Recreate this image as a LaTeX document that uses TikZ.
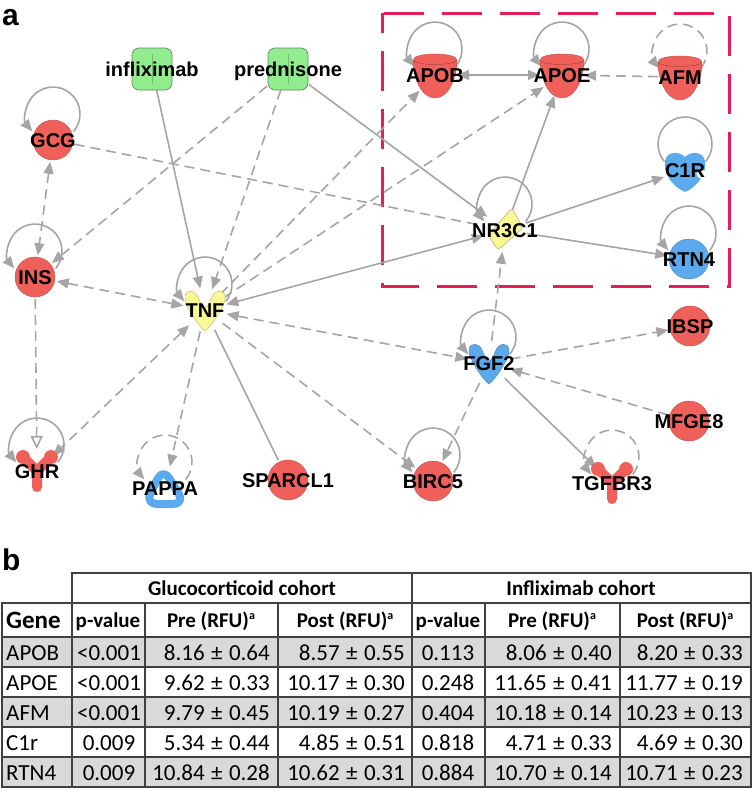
\documentclass[tikz,border=0pt]{standalone}
\usepackage{fontspec}
\setmainfont{Liberation Sans}
\newfontfamily\tabfont{Carlito}
\usetikzlibrary{arrows.meta}

\definecolor{upred}{RGB}{240,96,90}
\definecolor{dnblue}{RGB}{92,170,238}
\definecolor{ylw}{RGB}{250,248,150}
\definecolor{drugfill}{RGB}{144,236,140}
\definecolor{drugline}{RGB}{95,135,95}
\definecolor{edgegray}{RGB}{165,165,165}
\definecolor{boxred}{RGB}{228,30,88}
\definecolor{tabline}{RGB}{64,64,64}
\definecolor{tabshade}{RGB}{217,217,217}

\newcommand{\selfloop}[2][]{\draw[link,#1] (#2.center) ++(20.7,-8.6) arc[start angle=-40,end angle=220,radius=27pt];}
\newcommand{\rfusup}{\raisebox{8pt}{\fontsize{12}{12}\selectfont a}}
\newcommand{\pmx}{\hspace{0.28em}±\hspace{0.28em}}

\tikzset{
  gene/.style={circle, minimum size=44pt, inner sep=0pt, outer sep=0pt},
  drug/.style={rectangle, minimum width=42pt, minimum height=42pt, inner sep=0pt, outer sep=0pt},
  tag/.style={font=\fontsize{20}{22}\selectfont\bfseries, inner sep=0pt, anchor=base, yshift=-7pt},
  panel/.style={font=\fontsize{30}{32}\selectfont\bfseries, inner sep=0pt},
  link/.style={draw=edgegray, line width=1.6pt, -{Triangle[length=12pt,width=10pt]}},
  twoway/.style={{Triangle[length=12pt,width=10pt]}-{Triangle[length=12pt,width=10pt]}},
  broken/.style={dash pattern=on 10pt off 6pt},
  hotbox/.style={draw=boxred, line width=3pt, dash pattern=on 40pt off 18pt, dash phase=20pt},
  rule/.style={draw=tabline, line width=1.5pt, line cap=rect},
  cell/.style={font=\tabfont\fontsize{23}{25}\selectfont, inner sep=0pt},
  head/.style={font=\tabfont\bfseries\fontsize{21}{23}\selectfont, inner sep=0pt},
  % molecule shapes
  ball/.pic={\fill[#1, draw=#1!80!black, line width=0.4pt] (0,0) circle[radius=20pt];},
  cup/.pic={
    \fill[#1, draw=#1!80!black, line width=0.4pt] (-22,-15) .. controls (-22,-23) and (22,-23) .. (22,-15)
      .. controls (22,2) and (14,23) .. (0,23) .. controls (-14,23) and (-22,2) .. (-22,-15) -- cycle;
    \draw[#1!70!black, line width=0.5pt] (-22,-15) .. controls (-20,-9) and (20,-9) .. (22,-15);},
  wing/.pic={
    \fill[#1, draw=#1!75!black, line width=0.4pt] (0,21) .. controls (-5,18) and (-22,-6) .. (-20,-14)
      .. controls (-18,-21) and (-10,-20) .. (-7,-13) .. controls (-5,-8) and (-2,-2) .. (0,-2)
      .. controls (2,-2) and (5,-8) .. (7,-13) .. controls (10,-20) and (18,-21) .. (20,-14)
      .. controls (22,-6) and (5,18) .. (0,21) -- cycle;},
  fork/.pic={
    \fill[#1] (-14,-14) circle[radius=7pt] (14,-14) circle[radius=7pt];
    \draw[#1, line width=10pt, line cap=round, line join=round] (-14,-14) -- (0,0) -- (14,-14) (0,0) -- (0,16);},
  rhomb/.pic={\fill[#1, draw=#1!70!black, line width=0.5pt, rounded corners=3pt] (7,-22) -- (18,-2) -- (-7,20) -- (-17,5) -- cycle;},
  ring/.pic={\draw[#1, line width=8pt, line join=round, rounded corners=12pt, fill=white] (-2,-20) -- (20,16) -- (-20,16) -- cycle;},
  notch/.pic={
    \fill[#1] (0,22) .. controls (-14,16) and (-22,2) .. (-20,-9) .. controls (-18,-19) and (-6,-19) .. (0,-13)
      .. controls (6,-19) and (18,-19) .. (20,-9) .. controls (22,2) and (14,16) .. (0,22) -- cycle;
    \fill[white] (16,4) circle[radius=4.5pt];},
  capsule/.pic={
    \fill[#1, draw=drugline, line width=0.6pt, rounded corners=7pt] (-20,-21) rectangle (20,21);
    \draw[drugline!50!drugfill, line width=0.5pt] (0,-15) -- (0,15);}
}

\begin{document}
\begin{tikzpicture}[x=1pt, y=-1pt]
  \useasboundingbox (0,0) rectangle (754,798);
  % panel a: network
  \node[panel, anchor=base west] (pa) at (2,25) {a};
  \draw[hotbox] (382,13) rectangle (729,286);
  \node[drug] (inflix) at (152,69) {};
  \node[drug] (pred) at (288,69) {};
  \foreach \n/\x/\y in {gcg/53/140, ins/35/277, tnf/205/310, ghr/37/471, pappa/165/488,
      sparcl/288/480, birc/433/481, tgfbr/612/483, fgf/489/363, ibsp/690/326, mfge/689/421,
      nr3c1/505/230, apob/435/75, apoe/562/75, afm/680/77, c1r/685/170, rtn4/689/259}
    \node[gene] (\n) at (\x,\y) {};
  % self loops
  \foreach \n in {gcg,ins,tnf,ghr,birc,fgf,nr3c1,apob,apoe,rtn4}
    \selfloop{\n};
  \foreach \n in {pappa,afm,tgfbr}
    \selfloop[broken]{\n};
  \selfloop[-]{c1r};
  % solid links
  \draw[link] (inflix) -- (tnf);
  \draw[link] (pred) -- (nr3c1);
  \draw[link, twoway] (tnf) -- (nr3c1);
  \draw[link, -] (tnf) -- (sparcl);
  \draw[link] (nr3c1) -- (apoe);
  \draw[link] (nr3c1) -- (c1r);
  \draw[link] (nr3c1) -- (rtn4);
  \draw[link, twoway] (apob) -- (apoe);
  \draw[link] (fgf) -- (tgfbr);
  % dashed links
  \draw[link, broken] (pred) -- (ins);
  \draw[link, broken] (pred) -- (tnf);
  \draw[link, broken, -] (gcg) -- (nr3c1);
  \draw[link, broken, twoway] (gcg) -- (ins);
  \draw[link, broken, twoway] (ins) -- (tnf);
  \draw[link, broken, -{Triangle[fill=white, length=13pt, width=12pt]}] (ins) -- (ghr);
  \draw[link, broken, twoway] (tnf) -- (ghr);
  \draw[link, broken] (tnf) -- (pappa);
  \draw[link, broken] (tnf) -- (birc);
  \draw[link, broken, twoway] (tnf) -- (fgf);
  \draw[link, broken] (tnf) -- (apob);
  \draw[link, broken] (tnf) -- (apoe);
  \draw[link, broken] (afm) -- (apoe);
  \draw[link, broken] (fgf) -- (nr3c1);
  \draw[link, broken] (fgf) -- (ibsp);
  \draw[link, broken] (mfge) -- (fgf);
  \draw[link, broken] (fgf) -- (birc);
  % shapes and names
  \foreach \n/\s/\c/\t in {gcg/ball/upred/GCG, ins/ball/upred/INS, tnf/wing/ylw/TNF, ghr/fork/upred/GHR,
      pappa/ring/dnblue/PAPPA, sparcl/ball/upred/SPARCL1, birc/ball/upred/BIRC5, tgfbr/fork/upred/TGFBR3,
      fgf/wing/dnblue/FGF2, ibsp/ball/upred/IBSP, mfge/ball/upred/MFGE8, nr3c1/rhomb/ylw/NR3C1,
      apob/cup/upred/APOB, apoe/cup/upred/APOE, afm/cup/upred/AFM, c1r/notch/dnblue/C1R,
      rtn4/ball/dnblue/RTN4, inflix/capsule/drugfill/infliximab, pred/capsule/drugfill/prednisone}{
    \pic at (\n) {\s=\c};
    \node[tag] (\n-lbl) at (\n) {\t};}

  % panel b: table
  \node[panel, anchor=base west] (pb) at (2,570) {b};
  \fill[tabshade] (2,637) rectangle (751,667) (2,697) rectangle (751,727) (2,757) rectangle (751,787);
  \foreach \y in {603,637,667,697,727,757,787}
    \draw[rule] (2,\y) -- (751,\y);
  \draw[rule] (72,573) -- (751,573);
  \foreach \x in {2,72,145,278,412,485,620,751}
    \draw[rule] (\x,603) -- (\x,787);
  \foreach \x in {72,412,751}
    \draw[rule] (\x,573) -- (\x,603);
  \node[head, anchor=base] (gluco) at (242,595) {Glucocorticoid cohort};
  \node[head, anchor=base] (inflixh) at (581,595) {Infliximab cohort};
  \node[head, anchor=base west, font=\tabfont\bfseries\fontsize{25}{27}\selectfont] (geneh) at (6,628) {Gene};
  \foreach \n/\x/\t in {pv1/108/p-value, pre1/211/Pre (RFU)\rfusup, post1/345/Post (RFU)\rfusup,
      pv2/448/p-value, pre2/552/Pre (RFU)\rfusup, post2/685/Post (RFU)\rfusup}
    \node[head, anchor=base] (\n) at (\x,627) {\t};
  \foreach \g/\pa/\ma/\na/\pb/\mb/\nb [count=\i] in {
      APOB/<0.001/8.16\pmx 0.64/8.57\pmx 0.55/0.113/8.06\pmx 0.40/8.20\pmx 0.33,
      APOE/<0.001/9.62\pmx 0.33/10.17\pmx 0.30/0.248/11.65\pmx 0.41/11.77\pmx 0.19,
      AFM/<0.001/9.79\pmx 0.45/10.19\pmx 0.27/0.404/10.18\pmx 0.14/10.23\pmx 0.13,
      C1r/0.009/5.34\pmx 0.44/4.85\pmx 0.51/0.818/4.71\pmx 0.33/4.69\pmx 0.30,
      RTN4/0.009/10.84\pmx 0.28/10.62\pmx 0.31/0.884/10.70\pmx 0.14/10.71\pmx 0.23}{
    \pgfmathsetmacro{\yb}{660+30*(\i-1)}
    \node[cell, anchor=base west] (g\i) at (6,\yb) {\g};
    \node[cell, anchor=base] (pa\i) at (109,\yb) {\pa};
    \node[cell, anchor=base east] (ma\i) at (270,\yb) {\ma};
    \node[cell, anchor=base east] (na\i) at (405,\yb) {\na};
    \node[cell, anchor=base] (pb\i) at (448,\yb) {\pb};
    \node[cell, anchor=base east] (mb\i) at (612,\yb) {\mb};
    \node[cell, anchor=base east] (nb\i) at (743,\yb) {\nb};}
\end{tikzpicture}
\end{document}
